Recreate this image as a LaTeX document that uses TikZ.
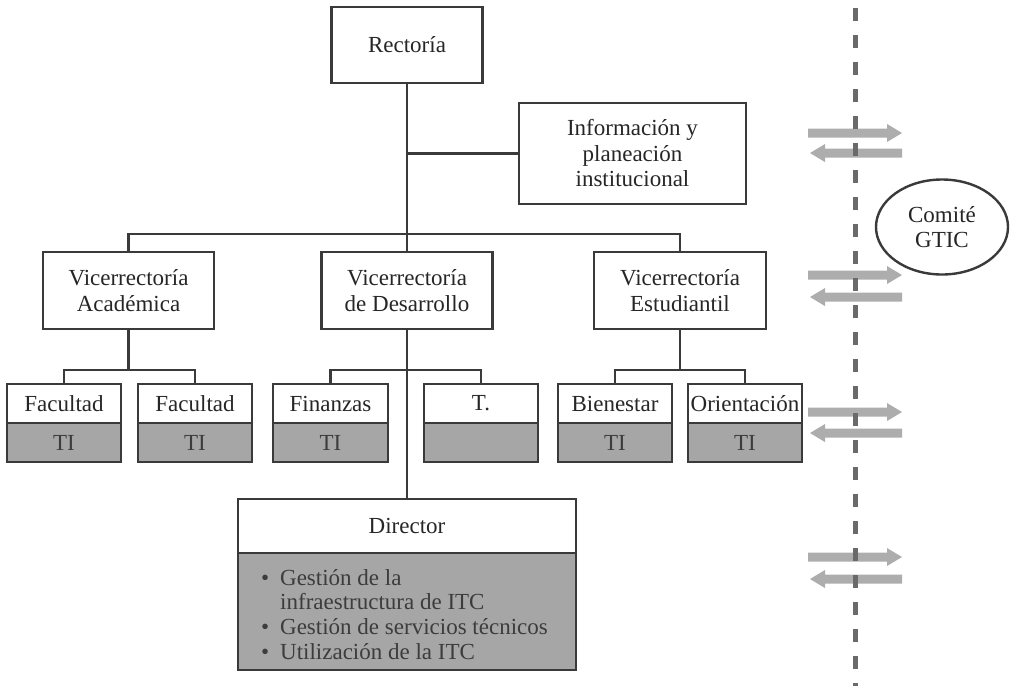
\documentclass[tikz,border=0pt]{standalone}
\usepackage{fontspec}
\setmainfont{Liberation Serif}
\usetikzlibrary{shapes.geometric}
\definecolor{ink}{HTML}{3A3A3A}
\definecolor{shade}{HTML}{A6A6A6}
\definecolor{arrowgray}{HTML}{ADADAD}
\definecolor{dashgray}{HTML}{6A6A6A}
\definecolor{shadetext}{HTML}{3C3C3C}
\tikzset{
  box/.style={draw=ink, line width=2.6pt, fill=white, rectangle, inner sep=0pt, align=center,
    font=\fontsize{23}{25.5}\selectfont, text=black!85},
  shadebox/.style={box, fill=shade, text=shadetext},
  conn/.style={draw=ink, line width=2.4pt},
  rarr/.pic={\fill[arrowgray] (0,-4.5) -- (79,-4.5) -- (79,-9) -- (94,0) -- (79,9) -- (79,4.5) -- (0,4.5) -- cycle;},
  larr/.pic={\fill[arrowgray] (0,0) -- (15,-9) -- (15,-4.5) -- (92,-4.5) -- (92,4.5) -- (15,4.5) -- (15,9) -- cycle;}
}
\begin{document}
\begin{tikzpicture}[x=1pt,y=-1pt]
\useasboundingbox (0,0) rectangle (1013,686);
\fill[white] (0,0) rectangle (1013,686);

% top level
\node[box, minimum width=151pt, minimum height=76pt] (rect) at (407,45) {Rector\'ia};
\node[box, minimum width=227pt, minimum height=101pt] (info) at (632.5,153.5) {Informaci\'on y\\planeaci\'on\\institucional};

% vice-rectorates
\node[box, minimum width=171pt, minimum height=77pt] (vaca) at (128.5,290.5) {Vicerrector\'ia\\Acad\'emica};
\node[box, minimum width=171pt, minimum height=77pt] (vdes) at (407,290.5) {Vicerrector\'ia\\de Desarrollo};
\node[box, minimum width=172pt, minimum height=77pt] (vest) at (680,290.5) {Vicerrector\'ia\\Estudiantil};

% units
\foreach \nm/\cx/\w/\txt/\ti in {fac1/64/114/Facultad/TI, fac2/195/114/Facultad/TI, fin/330.5/115/Finanzas/TI, tt/481/114/T./{}, bien/615/114/Bienestar/TI, ori/745/114/Orientaci\'on/TI}{
  \node[box, minimum width=\w pt, minimum height=39pt] (\nm) at (\cx,403.5) {\txt};
  \node[shadebox, minimum width=\w pt, minimum height=39pt] (\nm ti) at (\cx,442.5) {\ti};
}

% director
\node[box, minimum width=338pt, minimum height=54pt] (dir) at (407,526) {Director};
\node[shadebox, minimum width=338pt, minimum height=117pt] (dirti) at (407,611.5) {};
\node[anchor=west, align=left, inner sep=0pt, text=shadetext, font=\fontsize{23}{24.8}\selectfont] (dirlist) at (261,614.5)
  {\makebox[19pt][l]{\textbullet}Gesti\'on de la\\
   \hspace*{19pt}infraestructura de ITC\\
   \makebox[19pt][l]{\textbullet}Gesti\'on de servicios t\'ecnicos\\
   \makebox[19pt][l]{\textbullet}Utilizaci\'on de la ITC};

% connectors
\coordinate (jinfo) at (407,153.5);
\coordinate (jtop) at (407,234);
\coordinate (ja) at (128.5,370);
\coordinate (jd) at (407,370);
\coordinate (je) at (680,370);
\draw[conn] (rect.south) -- (jtop);
\draw[conn] (jinfo) -- (info.west);
\draw[conn] (vaca.north) |- (jtop) -| (vest.north);
\draw[conn] (jtop) -- (vdes.north);
\draw[conn] (vaca.south) -- (ja);
\draw[conn] (fac1.north) |- (ja) -| (fac2.north);
\draw[conn] (vdes.south) -- (dir.north);
\draw[conn] (fin.north) |- (jd) -| (tt.north);
\draw[conn] (vest.south) -- (je);
\draw[conn] (bien.north) |- (je) -| (ori.north);

% committee
\node[ellipse, draw=ink, line width=2.4pt, minimum width=132pt, minimum height=95pt, inner sep=0pt,
  align=center, font=\fontsize{23}{25.5}\selectfont, text=black!85] (gtic) at (942,227) {Comit\'e\\GTIC};

% exchange arrows
\foreach \ya/\yb in {133/153, 275/297, 412/433, 557/579}{
  \pic at (808,\ya) {rarr};
  \pic at (810,\yb) {larr};
}

% boundary
\coordinate (btop) at (855,0);
\coordinate (bbot) at (855,686);
\draw[dashgray, line width=5pt, dash pattern=on 13pt off 14pt, dash phase=-8pt] (btop) -- (bbot);
\end{tikzpicture}
\end{document}
